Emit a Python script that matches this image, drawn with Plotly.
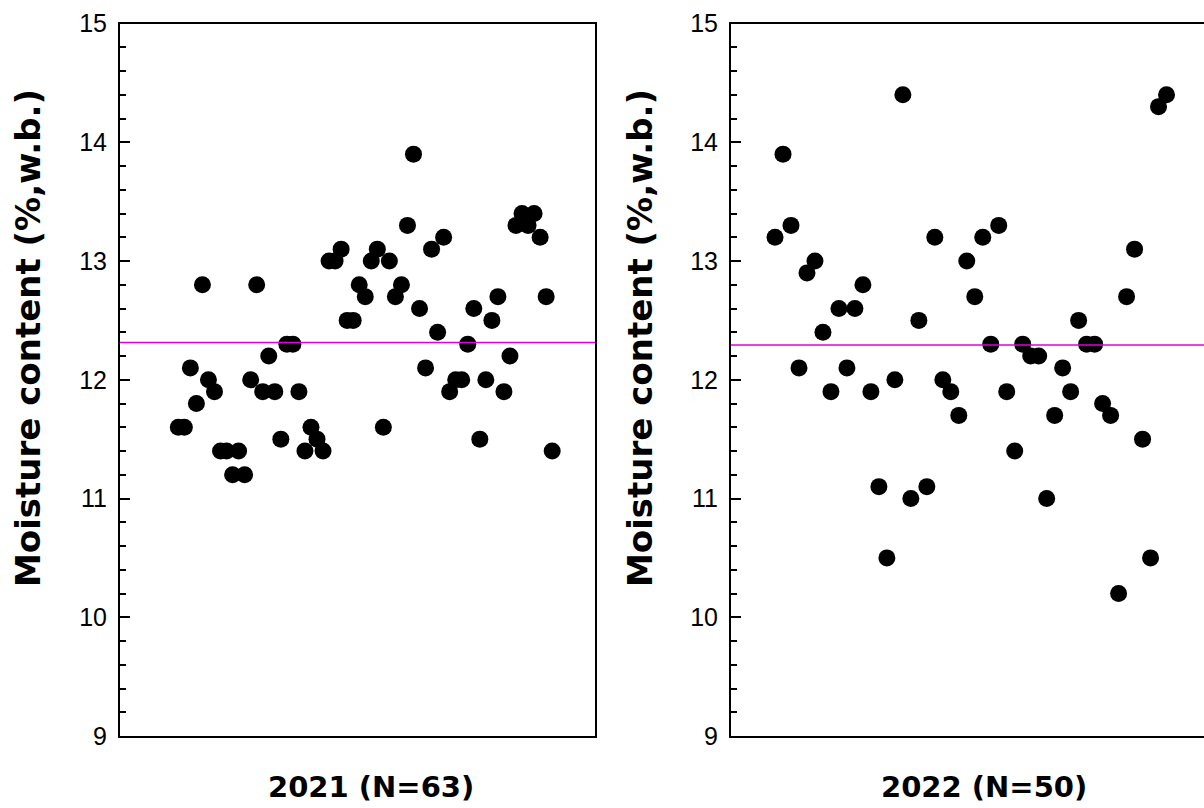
import plotly.graph_objects as go

# ---- data ----
moisture_2021 = [11.6, 11.6, 12.1, 11.8, 12.8, 12.0, 11.9, 11.4, 11.4, 11.2,
                 11.4, 11.2, 12.0, 12.8, 11.9, 12.2, 11.9, 11.5, 12.3, 12.3,
                 11.9, 11.4, 11.6, 11.5, 11.4, 13.0, 13.0, 13.1, 12.5, 12.5,
                 12.8, 12.7, 13.0, 13.1, 11.6, 13.0, 12.7, 12.8, 13.3, 13.9,
                 12.6, 12.1, 13.1, 12.4, 13.2, 11.9, 12.0, 12.0, 12.3, 12.6,
                 11.5, 12.0, 12.5, 12.7, 11.9, 12.2, 13.3, 13.4, 13.3, 13.4,
                 13.2, 12.7, 11.4]
moisture_2022 = [13.2, 13.9, 13.3, 12.1, 12.9, 13.0, 12.4, 11.9, 12.6, 12.1,
                 12.6, 12.8, 11.9, 11.1, 10.5, 12.0, 14.4, 11.0, 12.5, 11.1,
                 13.2, 12.0, 11.9, 11.7, 13.0, 12.7, 13.2, 12.3, 13.3, 11.9,
                 11.4, 12.3, 12.2, 12.2, 11.0, 11.7, 12.1, 11.9, 12.5, 12.3,
                 12.3, 11.8, 11.7, 10.2, 12.7, 13.1, 11.5, 10.5, 14.3, 14.4]
sample_2021 = list(range(1, len(moisture_2021) + 1))
sample_2022 = list(range(1, len(moisture_2022) + 1))
panel_labels = ["2021 (N=63)", "2022 (N=50)"]
y_title = "Moisture content (%,w.b.)"
y_ticks = [9, 10, 11, 12, 13, 14, 15]

mean_2021 = sum(moisture_2021) / len(moisture_2021)
mean_2022 = sum(moisture_2022) / len(moisture_2022)

W, H = 1204, 808
def px_x(p): return p / W
def px_y(p): return 1 - p / H

tick_font = dict(family="Liberation Sans, Arial, sans-serif", size=25, color="black")
title_font = dict(family="DejaVu Sans, sans-serif", size=34, color="black", weight="bold")
label_font = dict(family="DejaVu Sans, sans-serif", size=29, color="black", weight="bold")

fig = go.Figure()
fig.add_trace(go.Scatter(x=sample_2021, y=moisture_2021, mode="markers",
                         marker=dict(size=17, color="black"), xaxis="x", yaxis="y",
                         showlegend=False))
fig.add_trace(go.Scatter(x=sample_2022, y=moisture_2022, mode="markers",
                         marker=dict(size=17, color="black"), xaxis="x2", yaxis="y2",
                         showlegend=False))

ydom = [px_y(736), px_y(23.5)]

def yaxis_cfg(anchor, mirror):
    return dict(domain=ydom, anchor=anchor, range=[9, 15], tickvals=y_ticks,
                ticks="inside", ticklen=10, tickwidth=1.5, tickcolor="black",
                minor=dict(dtick=0.2, ticks="inside", ticklen=6, tickwidth=1.5,
                           tickcolor="black", showgrid=False),
                showline=True, linecolor="black", linewidth=2, mirror=mirror,
                showgrid=False, zeroline=False, tickfont=tick_font,
                ticklabelstandoff=6, automargin=False)

def xaxis_cfg(dom, rng, anchor):
    return dict(domain=dom, anchor=anchor, range=rng, showticklabels=False,
                ticks="", showline=True, linecolor="black", linewidth=2,
                mirror=True, showgrid=False, zeroline=False, automargin=False)

fig.update_layout(
    width=W, height=H,
    margin=dict(l=0, r=0, t=0, b=0, pad=0, autoexpand=False),
    paper_bgcolor="white", plot_bgcolor="white",
    xaxis=xaxis_cfg([px_x(120), px_x(595)], [-8.67, 70.1], "y"),
    yaxis=yaxis_cfg("x", True),
    xaxis2=xaxis_cfg([px_x(731), 1.0], [-4.51, 54.69], "y2"),
    yaxis2=yaxis_cfg("x2", False),
    shapes=[
        dict(type="line", xref="x domain", yref="y", x0=0, x1=1,
             y0=mean_2021, y1=mean_2021, line=dict(color="#e000e0", width=1.5)),
        dict(type="line", xref="x2 domain", yref="y2", x0=0, x1=1,
             y0=mean_2022, y1=mean_2022, line=dict(color="#e000e0", width=1.5)),
    ],
    annotations=[
        dict(text=y_title, xref="paper", yref="paper", x=px_x(28), y=px_y(338),
             xanchor="center", yanchor="middle", textangle=-90, showarrow=False,
             font=title_font),
        dict(text=y_title, xref="paper", yref="paper", x=px_x(640), y=px_y(338),
             xanchor="center", yanchor="middle", textangle=-90, showarrow=False,
             font=title_font),
        dict(text=panel_labels[0], xref="paper", yref="paper", x=px_x(371), y=px_y(787),
             xanchor="center", yanchor="middle", showarrow=False, font=label_font),
        dict(text=panel_labels[1], xref="paper", yref="paper", x=px_x(984), y=px_y(787),
             xanchor="center", yanchor="middle", showarrow=False, font=label_font),
    ],
)

fig.write_html("out.html")
